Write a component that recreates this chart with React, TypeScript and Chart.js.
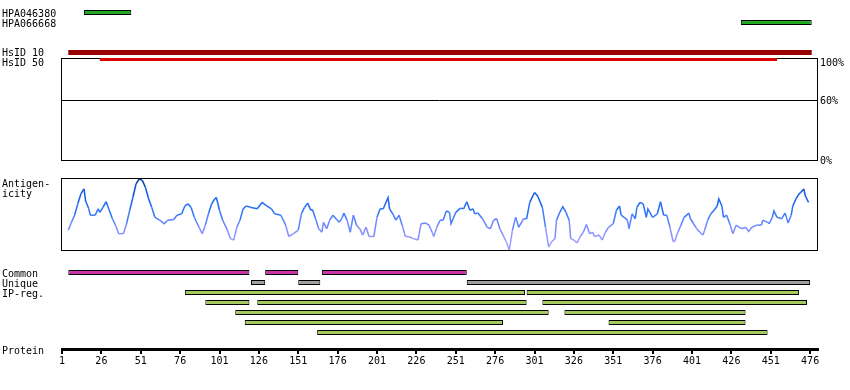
import React, { useEffect, useRef } from "react";
import { Chart, registerables } from "chart.js";

Chart.register(...registerables);

// ---------------- data ----------------
const RES_MIN = 1;
const RES_MAX = 481;

const antibodyNames = ["HPA046380", "HPA066668"];
const antibodyRanges: [number, number][] = [
  [15, 45],
  [432, 477],
];

const hsidNames = ["HsID 10", "HsID 50"];
const hsidRanges: [number, number][] = [
  [5, 477],
  [25, 455],
];

const percentTicks = [0, 60, 100];
const percentLabels = ["0%", "60%", "100%"];

const antigenLabelLines = ["Antigen-", "icity"];
const antigenResidues = [
  5, 7, 9, 11, 13, 15, 16, 18, 19, 22, 24, 25, 27, 29, 30, 33, 35, 37, 40, 42, 44, 46, 48, 50, 52, 54, 56, 58, 60, 63,
  66, 68, 72, 74, 77, 79, 81, 83, 85, 88, 90, 92, 94, 96, 98, 99, 101, 103, 106, 108, 110, 112, 114, 116, 118, 121,
  125, 128, 131, 134, 136, 140, 143, 145, 148, 151, 153, 155, 157, 159, 160, 162, 164, 166, 167, 169, 171, 173, 175,
  177, 179, 180, 182, 184, 186, 188, 190, 192, 194, 196, 199, 201, 203, 205, 208, 209, 211, 213, 215, 217, 219, 221,
  224, 227, 229, 232, 234, 236, 237, 239, 241, 243, 245, 247, 248, 251, 254, 256, 258, 260, 262, 263, 265, 268, 271,
  273, 275, 277, 279, 281, 283, 285, 287, 289, 291, 294, 296, 298, 301, 303, 306, 308, 310, 312, 314, 315, 317, 319,
  321, 323, 324, 326, 328, 330, 332, 334, 336, 338, 339, 342, 344, 346, 348, 351, 353, 355, 356, 358, 360, 361, 363,
  365, 366, 368, 370, 372, 373, 376, 379, 381, 383, 385, 387, 389, 390, 392, 394, 396, 399, 400, 402, 404, 406, 408,
  409, 411, 413, 415, 417, 418, 420, 421, 423, 425, 427, 429, 431, 433, 435, 437, 439, 442, 445, 446, 449, 450, 452,
  453, 455, 458, 460, 461, 462, 464, 465, 467, 469, 470, 472, 473, 475,
];
const antigenValues = [
  28, 39, 49, 65, 79, 86, 69, 58, 49, 49, 58, 53, 60, 68, 62, 44, 35, 23, 23, 37, 56, 74, 93, 100, 98, 88, 72, 60, 46, 42,
  37, 42, 43, 49, 51, 62, 65, 60, 46, 32, 23, 35, 51, 65, 72, 74, 56, 42, 28, 16, 14, 32, 42, 58, 62, 60,
  58, 67, 62, 58, 51, 49, 35, 19, 23, 28, 51, 60, 66, 56, 57, 44, 30, 25, 39, 30, 42, 49, 44,
  39, 46, 52, 42, 25, 49, 35, 30, 21, 32, 19, 19, 46, 58, 58, 74, 58, 51, 42, 49, 35, 19, 19,
  16, 14, 37, 38, 35, 25, 19, 32, 42, 42, 55, 53, 37, 53, 59, 58, 68, 56, 58, 51, 52, 44, 32,
  30, 42, 44, 30, 21, 12, 0, 28, 46, 32, 44, 44, 67, 81, 76, 60, 32, 4, 12, 16, 42, 53, 61,
  53, 42, 16, 14, 10, 19, 25, 36, 23, 25, 19, 21, 14, 25, 32, 37, 56, 62, 49, 46, 42, 30, 51,
  44, 60, 67, 65, 46, 58, 46, 51, 68, 49, 49, 32, 12, 12, 25, 35, 46, 52, 44, 37, 30, 25, 21,
  28, 42, 51, 56, 62, 72, 62, 46, 49, 37, 23, 35, 32, 30, 32, 26, 32, 35, 35, 42, 39, 37, 46,
  55, 46, 44, 52, 46, 38, 49, 62, 72, 79, 81, 86, 76, 67,
];

const trackRows = ["Common", "Unique", "IP-reg.", "IP-reg. 2", "IP-reg. 3", "IP-reg. 4", "IP-reg. 5"];
const trackRowLabels = ["Common", "Unique", "IP-reg."];
const commonRanges: [number, number][] = [
  [5, 120],
  [130, 151],
  [166, 258],
];
const uniqueRanges: [number, number][] = [
  [121, 130],
  [151, 165],
  [258, 476],
];
const ipRow1: [number, number][] = [
  [79, 295],
  [296, 469],
];
const ipRow2: [number, number][] = [
  [92, 120],
  [125, 296],
  [306, 474],
];
const ipRow3: [number, number][] = [
  [111, 310],
  [320, 435],
];
const ipRow4: [number, number][] = [
  [117, 281],
  [348, 435],
];
const ipRow5: [number, number][] = [[163, 449]];

const proteinLabel = "Protein";
const proteinTicks = [1, 26, 51, 76, 101, 126, 151, 176, 201, 226, 251, 276, 301, 326, 351, 376, 401, 426, 451, 476];

// ---------------- styling helpers ----------------
const FONT_FAMILY = "'DejaVu Sans Mono', monospace";
const FONT = `10px ${FONT_FAMILY}`;
const W = 850;
const PAD_L = 62;
const PAD_R = 32;

type TextItem = { text: string; x: number; y: number; align?: CanvasTextAlign };

function textPlugin(items: TextItem[]) {
  return {
    id: "sideText",
    afterDraw(chart: any) {
      const ctx = chart.ctx;
      ctx.save();
      ctx.font = FONT;
      ctx.fillStyle = "#000";
      ctx.textBaseline = "alphabetic";
      for (const it of items) {
        ctx.textAlign = it.align || "left";
        ctx.fillText(it.text, it.x, it.y);
      }
      ctx.restore();
    },
  };
}

const framePlugin = {
  id: "frame",
  afterDraw(chart: any) {
    const { ctx, chartArea: a } = chart;
    ctx.save();
    ctx.strokeStyle = "#000";
    ctx.lineWidth = 1;
    ctx.strokeRect(a.left - 0.5, a.top - 0.5, a.right - a.left, a.bottom - a.top + 1);
    ctx.restore();
  },
};

const percentPlugin = {
  id: "percent",
  afterDraw(chart: any) {
    const { ctx, chartArea: a } = chart;
    const y = chart.scales.y;
    ctx.save();
    ctx.strokeStyle = "#000";
    ctx.lineWidth = 1;
    const gy = Math.ceil(y.getPixelForValue(60)) + 0.5;
    ctx.beginPath();
    ctx.moveTo(a.left - 1, gy);
    ctx.lineTo(a.right, gy);
    ctx.stroke();
    ctx.font = FONT;
    ctx.fillStyle = "#000";
    ctx.textAlign = "left";
    ctx.textBaseline = "alphabetic";
    percentTicks.forEach((v, i) => {
      const py = Math.max(Math.ceil(y.getPixelForValue(v)) + 4, a.top + 7);
      ctx.fillText(percentLabels[i], a.right + 2, py);
    });
    ctx.restore();
  },
};

function antigenColor(v: number) {
  const stops: [number, number[]][] = [
    [0, [178, 168, 255]],
    [30, [125, 140, 255]],
    [55, [40, 115, 250]],
    [80, [12, 88, 225]],
    [100, [5, 55, 150]],
  ];
  for (let i = 1; i < stops.length; i++) {
    if (v <= stops[i][0]) {
      const [v0, c0] = stops[i - 1];
      const [v1, c1] = stops[i];
      const t = (v - v0) / (v1 - v0);
      const c = c0.map((c, k) => Math.round(c + (c1[k] - c) * t));
      return `rgb(${c[0]},${c[1]},${c[2]})`;
    }
  }
  return "rgb(5,55,150)";
}

function baseOptions(top: number, bottom: number) {
  return {
    responsive: false,
    maintainAspectRatio: false,
    animation: false as const,
    devicePixelRatio: 1,
    events: [] as any[],
    layout: { padding: { left: PAD_L, right: PAD_R, top, bottom } },
    plugins: { legend: { display: false }, tooltip: { enabled: false } },
  };
}

const hiddenX = () => ({ type: "linear" as const, min: RES_MIN, max: RES_MAX, display: false });

const barStyle = {
  borderColor: "#000",
  borderWidth: 1,
  borderSkipped: false as const,
  barThickness: 5,
  grouped: false,
  inflateAmount: 0,
};

function rangeData(ranges: [number, number][], row: string) {
  return ranges.map((r) => ({ x: r, y: row }));
}

// ---------------- chart configs ----------------
const antibodyConfig = (): any => ({
  type: "bar",
  data: {
    labels: antibodyNames,
    datasets: [
      {
        data: antibodyNames.map((n, i) => ({ x: antibodyRanges[i], y: n })),
        backgroundColor: "#22a822",
        ...barStyle,
      },
    ],
  },
  options: {
    ...baseOptions(7.5, 4.5),
    indexAxis: "y",
    scales: { x: hiddenX(), y: { type: "category", display: false, offset: true } },
  },
  plugins: [textPlugin(antibodyNames.map((t, i) => ({ text: t, x: 2, y: 17 + 10 * i })))],
});

const identityConfig = (): any => ({
  type: "scatter",
  data: { datasets: [] },
  options: {
    ...baseOptions(19, 10),
    scales: { x: hiddenX(), y: { type: "linear", min: 0, max: 100, display: false } },
  },
  plugins: [framePlugin, percentPlugin],
});

const hsidConfig = (): any => ({
  type: "bar",
  data: {
    labels: hsidNames,
    datasets: [
      {
        data: [{ x: hsidRanges[0], y: hsidNames[0] }],
        backgroundColor: "#990000",
        borderWidth: 0,
        barThickness: 5,
        grouped: false,
        inflateAmount: 0,
      },
      {
        data: [{ x: hsidRanges[1], y: hsidNames[1] }],
        backgroundColor: "#dd0000",
        borderWidth: 0,
        barThickness: 3,
        grouped: false,
        inflateAmount: 0,
      },
    ],
  },
  options: {
    ...baseOptions(5, 7),
    indexAxis: "y",
    scales: { x: hiddenX(), y: { type: "category", display: false, offset: true } },
  },
  plugins: [textPlugin(hsidNames.map((t, i) => ({ text: t, x: 2, y: 12 + 10 * i })))],
});

const antigenConfig = (): any => ({
  type: "line",
  data: {
    datasets: [
      {
        data: antigenResidues.map((r, i) => ({ x: r, y: antigenValues[i] })),
        borderColor: "#2a6ff0",
        borderWidth: 1.5,
        pointRadius: 0,
        tension: 0,
        segment: {
          borderColor: (ctx: any) => antigenColor((ctx.p0.parsed.y + ctx.p1.parsed.y) / 2),
        },
      },
    ],
  },
  options: {
    ...baseOptions(9, 10),
    scales: { x: hiddenX(), y: { type: "linear", min: 0, max: 100, display: false } },
  },
  plugins: [framePlugin, textPlugin(antigenLabelLines.map((t, i) => ({ text: t, x: 2, y: 17 + 10 * i })))],
});

const tracksConfig = (): any => ({
  type: "bar",
  data: {
    labels: trackRows,
    datasets: [
      { data: rangeData(commonRanges, trackRows[0]), backgroundColor: "#cc33aa", ...barStyle },
      { data: rangeData(uniqueRanges, trackRows[1]), backgroundColor: "#a0a0a0", ...barStyle },
      {
        data: [
          ...rangeData(ipRow1, trackRows[2]),
          ...rangeData(ipRow2, trackRows[3]),
          ...rangeData(ipRow3, trackRows[4]),
          ...rangeData(ipRow4, trackRows[5]),
          ...rangeData(ipRow5, trackRows[6]),
        ],
        backgroundColor: "#a3c95f",
        ...barStyle,
      },
    ],
  },
  options: {
    ...baseOptions(5.5, 4.5),
    indexAxis: "y",
    scales: { x: hiddenX(), y: { type: "category", display: false, offset: true } },
  },
  plugins: [textPlugin(trackRowLabels.map((t, i) => ({ text: t, x: 2, y: 15 + 10 * i })))],
});

const axisConfig = (): any => ({
  type: "scatter",
  data: { datasets: [] },
  options: {
    ...baseOptions(0, 0),
    scales: {
      x: {
        type: "linear",
        min: RES_MIN,
        max: RES_MAX,
        position: "bottom",
        display: true,
        afterBuildTicks: (axis: any) => {
          axis.ticks = proteinTicks.map((v) => ({ value: v }));
        },
        afterFit: (scale: any) => {
          scale.height = 40.5;
        },
        ticks: {
          font: { family: FONT_FAMILY, size: 10 },
          color: "#000",
          padding: 1,
          autoSkip: false,
          maxRotation: 0,
          minRotation: 0,
        },
        grid: {
          display: true,
          drawOnChartArea: false,
          drawTicks: true,
          tickLength: 4.5,
          tickWidth: 2,
          tickColor: "#000",
          color: "#000",
          lineWidth: 2,
        },
        border: { display: true, width: 3, color: "#000" },
      },
      y: { type: "linear", display: false },
    },
  },
  plugins: [textPlugin([{ text: proteinLabel, x: 2, y: 34 }])],
});

// ---------------- components ----------------
function ChartCanvas({ top, height, config }: { top: number; height: number; config: () => any }) {
  const ref = useRef<HTMLCanvasElement | null>(null);
  useEffect(() => {
    if (!ref.current) return;
    const chart = new Chart(ref.current, config());
    return () => chart.destroy();
  }, [config]);
  return (
    <canvas
      ref={ref}
      width={W}
      height={height}
      style={{ position: "absolute", left: 0, top, width: W, height, display: "block" }}
    />
  );
}

export default function App() {
  return (
    <div style={{ position: "absolute", left: 0, top: 0, width: W, height: 390, background: "#fff", overflow: "hidden" }}>
      <ChartCanvas top={0} height={32} config={antibodyConfig} />
      <ChartCanvas top={40} height={130} config={identityConfig} />
      <ChartCanvas top={44} height={26} config={hsidConfig} />
      <ChartCanvas top={170} height={90} config={antigenConfig} />
      <ChartCanvas top={262} height={80} config={tracksConfig} />
      <ChartCanvas top={320} height={70} config={axisConfig} />
    </div>
  );
}
